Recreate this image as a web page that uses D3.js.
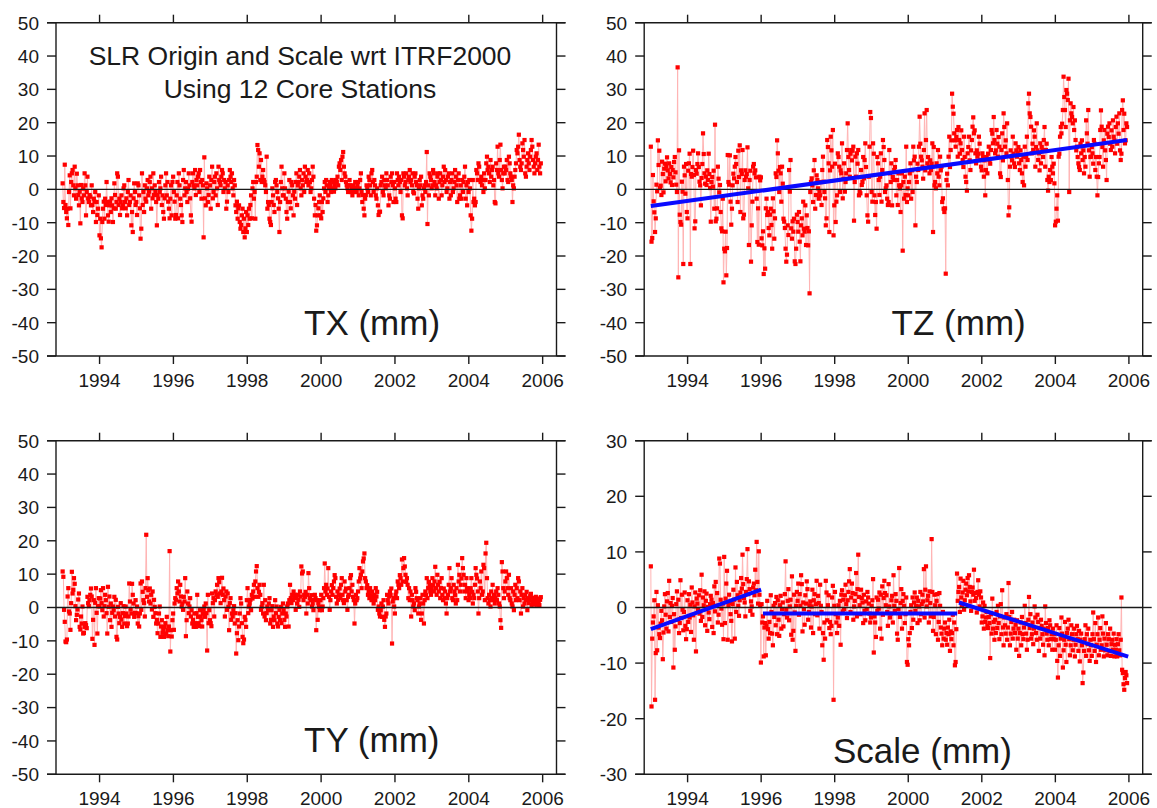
<!DOCTYPE html>
<html><head><meta charset="utf-8">
<script src="https://cdn.jsdelivr.net/npm/d3@7"></script>
<style>
body{margin:0;background:#fff}
svg{display:block}
text{font-family:Arial,"Liberation Sans",sans-serif;fill:#1a1a1a}
</style>
</head><body>
<svg id="chart" width="1157" height="808"></svg>
<script>
// ---------- data (weekly solutions) ----------
const firstEpoch = 1993.0;
const lastEpoch = 2005.95;

const txValues = [
1.8,-3.8,-5.6,7.4,-4.7,-6.8,-8.7,-5.8,-10.7,-0.8,4.2,-5.7,2.2,4.8,5.8,1.2,-1.8,6.8,0.3,-2.8,4.7,1.2,-1.7,-4.8,-0.7,-10.2,1.3,-2.7,-3.8,0.2,-1.8,4.8,1.2,-7.8,-0.8,3.8,-2.7,-3.8,-1.7,-2.2,-4.8,1.2,-4.7,-6.8,-2.8,-3.7,-0.8,-9.8,-3.8,-7.7,-5.8,-1.8,
-13.8,-8.8,-14.7,-17.4,-9.8,-5.8,-3.7,-8.8,-2.8,-4.7,2.2,-3.8,-7.8,-9.7,-4.8,-3.7,-6.8,-2.7,-4.8,-9.8,-5.7,1.8,-1.7,-5.8,-3.8,4.8,3.8,-4.7,-2.8,-7.7,-3.8,-1.8,-5.7,-4.8,0.3,1.2,-3.8,-5.7,-2.7,-7.8,-0.8,2.8,-4.7,-3.8,-1.8,-10.8,-6.8,-12.8,-2.7,1.8,-0.8,-4.7,
-3.8,-7.7,1.8,1.2,-1.8,-5.7,-14.8,-11.8,4.8,-4.7,-0.8,-6.8,1.2,-2.8,-3.7,0.3,2.8,-1.8,-0.7,2.2,3.8,-5.8,0.3,-2.7,4.8,-1.7,1.2,-0.8,-3.8,-10.8,-1.7,-2.8,2.2,-0.8,0.3,3.8,-4.7,-1.8,-6.8,-8.8,-2.7,1.2,4.8,-1.8,2.2,-3.7,-5.8,-8.7,-2.8,1.2,-7.8,2.2,
3.8,-0.8,-3.7,-8.8,-7.7,-1.8,2.2,-8.7,4.8,1.2,-2.8,-4.7,-7.8,-9.8,2.8,5.8,-1.8,0.3,2.2,-0.8,-3.8,0.2,4.8,1.2,-2.7,-7.8,-9.7,2.2,4.8,1.2,0.3,5.8,-1.7,2.8,1.2,3.8,4.8,-0.8,5.8,2.2,-2.8,2.8,1.2,-14.4,9.6,-2.7,-4.8,1.8,0.3,-3.8,-1.7,3.8,
1.2,-5.8,2.8,6.8,-2.7,-0.8,2.2,3.8,-1.8,4.8,0.3,-4.7,6.8,2.8,2.2,1.2,3.8,5.8,4.8,-0.8,2.8,0.3,2.2,-5.8,-3.7,1.2,-0.8,2.8,5.8,3.8,2.2,4.8,0.3,-1.8,2.8,1.2,-4.8,-6.8,-3.7,-8.8,-5.7,-4.8,-9.8,-11.8,-10.7,-7.8,-5.8,-12.8,-8.8,-14.4,-11.7,-6.8,
-12.8,-7.8,-10.7,-5.8,-8.8,-4.7,-1.8,-8.7,0.3,2.2,-2.8,-0.8,-8.8,2.2,3.8,13.3,11.8,6.8,10.8,2.8,8.8,2.2,3.8,5.8,2.8,2.2,1.2,-0.8,9.8,-5.8,-3.8,-4.7,-8.8,-9.8,-10.7,-3.8,0.3,-1.8,-4.7,-6.8,2.2,2.8,1.2,-0.8,-2.7,-5.8,-12.8,-3.8,2.2,6.8,0.3,-1.8,
-1.8,4.8,0.3,-2.8,-6.8,-8.8,-3.8,-0.7,2.8,-3.8,-5.7,2.2,1.2,-1.8,-7.8,-0.7,-2.8,2.2,4.8,-4.7,1.2,2.2,3.8,5.8,0.3,-1.8,2.8,1.2,4.8,-0.8,6.8,3.8,2.2,2.8,5.8,1.2,4.8,2.2,-0.8,0.3,2.8,6.8,3.8,-2.8,-7.8,-4.7,-12.4,-10.8,-7.8,-5.7,-3.8,-1.8,
-7.8,-8.7,-3.8,-6.8,-2.7,0.3,2.2,-0.8,2.8,1.2,-3.8,-1.8,0.3,2.2,1.2,-0.8,2.8,0.3,2.2,-0.7,1.2,0.3,2.8,2.2,3.8,1.2,6.8,7.8,5.8,8.8,2.8,9.8,11.2,6.8,4.8,3.8,2.2,1.2,0.3,-0.8,1.2,2.8,1.2,-0.8,0.3,-1.8,1.2,0.3,-0.8,2.2,0.3,-0.8,
1.2,2.2,-1.8,0.3,2.8,4.8,-0.8,-3.8,-1.7,-5.8,-7.8,-2.8,-1.7,1.2,0.3,-0.8,3.8,2.8,1.2,-1.8,4.8,5.8,2.2,-0.8,2.8,1.2,-1.8,-2.8,0.3,-4.8,-7.7,-6.8,-6.7,1.2,2.2,3.8,-0.8,-1.8,2.8,1.2,0.3,4.8,2.8,1.2,-4.8,-1.8,-2.8,3.8,2.2,4.8,1.2,-3.8,
2.2,0.3,-2.8,-3.8,4.8,2.8,1.2,3.8,2.2,-0.8,2.8,-7.8,-8.7,4.8,3.8,1.2,2.2,4.8,0.3,-1.8,2.8,3.8,5.8,2.2,2.8,1.2,4.8,-0.8,-1.2,3.8,4.8,2.2,1.2,-2.8,-5.8,0.3,2.8,1.2,3.8,-4.8,-1.8,-2.8,0.3,1.2,-0.8,2.2,11.2,-10.4,1.2,-1.8,4.8,3.8,
2.8,0.3,1.2,5.8,4.8,2.2,-1.8,1.2,0.3,3.8,4.8,-2.8,2.2,4.8,2.8,-1.8,1.2,3.8,6.8,2.2,5.8,2.8,-0.8,0.3,3.8,4.8,-2.8,2.2,-1.8,2.8,4.8,-0.8,0.3,2.2,5.8,3.8,1.2,-3.8,2.8,4.8,-2.8,-1.8,1.2,-2.8,2.8,-0.8,2.2,3.8,6.8,-2.8,1.2,-4.8,
2.2,-0.8,2.8,0.3,-7.8,-12.4,-8.8,2.8,-3.8,-2.8,-4.8,-3.8,5.8,4.8,2.8,7.8,6.8,2.8,2.2,3.8,1.2,2.8,-0.8,4.8,0.3,2.8,7.8,9.8,5.8,6.8,4.8,2.2,8.8,3.8,5.8,6.8,1.2,2.8,-3.8,-4.2,7.8,5.8,12.8,4.8,3.8,8.8,13.4,5.8,2.8,0.3,4.8,6.8,
4.8,6.8,5.8,8.8,2.8,2.2,9.8,7.8,4.8,3.8,2.8,-3.8,1.2,0.3,3.8,5.8,7.8,11.8,10.8,12.8,16.4,8.8,6.8,5.8,7.8,13.8,11.8,9.8,14.8,4.8,3.8,6.8,8.8,10.8,7.8,5.8,9.8,11.8,14.8,12.8,8.8,6.8,4.8,7.8,9.8,10.8,5.8,8.8,13.4,6.8,4.8,7.8
];

const tzValues = [
12.8,-15.7,-14.6,4.3,-3.6,-6.9,-12.8,-8.7,1.4,-0.6,14.7,7.3,11.6,0.4,1.1,-1.7,8.3,4.6,-0.9,6.2,7.7,2.4,6.8,9.6,5.7,3.3,7.8,4.6,2.1,6.7,1.3,5.8,3.6,8.2,9.7,5.1,1.4,-0.8,36.6,-26.4,11.7,-7.6,-9.8,-10.6,2.3,-0.7,-22.4,6.8,4.2,-1.3,7.6,-6.8,
-8.7,5.6,7.8,10.7,-22.4,4.6,3.8,6.7,11.6,4.3,-11.7,-9.6,5.8,4.7,7.6,10.8,6.7,2.3,1.2,-4.8,3.4,7.6,16.8,10.6,4.8,1.7,3.8,1.3,5.7,2.8,10.7,4.6,0.4,-9.7,2.2,3.7,0.8,5.6,-5.8,19.4,-9.6,-8.8,-5.7,6.8,3.2,-0.9,1.3,-6.8,-11.7,-12.6,-2.8,-27.9,
-17.8,-18.6,-12.7,-25.8,-17.6,10.3,2.2,1.4,10.2,-3.7,-10.6,-5.8,1.2,4.7,3.3,6.8,9.7,7.6,2.2,-3.8,11.6,3.7,13.2,-6.8,5.7,4.6,11.8,-8.7,-7.6,2.8,5.7,3.8,4.6,12.6,0.3,-16.7,2.8,5.6,-21.7,-10.8,-3.7,6.8,7.6,4.8,5.7,3.6,-2.8,-15.8,-5.7,-16.6,3.8,2.7,
3.6,-14.7,-16.8,-12.6,-25.4,-17.7,-23.8,-5.7,-2.8,-7.7,-6.8,-11.6,-13.8,-7.6,-5.8,-10.7,-17.8,-2.7,-6.6,-14.8,-8.7,4.8,3.7,14.7,10.8,5.6,-0.8,6.7,4.8,-3.7,6.8,1.7,-8.8,-9.7,-11.6,-17.8,-21.7,-19.6,-10.8,-13.7,5.8,-0.7,8.8,-11.7,-14.8,-9.6,-12.7,-8.8,-21.6,-22.4,-17.8,-7.6,
-9.8,-12.7,-6.8,-15.7,-21.6,-10.8,-8.7,-13.8,-3.7,-11.8,-12.7,-4.8,-16.7,-7.8,-11.6,-16.8,-12.6,-31.2,-0.8,2.2,3.3,1.2,-3.8,5.7,8.8,-5.8,-1.7,4.2,2.8,0.3,-2.8,-0.7,-1.8,2.2,-4.7,5.8,9.8,2.3,-0.8,-2.7,-10.8,-8.7,14.8,12.7,7.8,-12.8,5.7,15.8,11.7,6.8,17.8,-13.8,
-4.8,7.7,-9.8,-3.7,-1.8,10.8,9.7,6.8,-0.8,5.7,4.8,13.8,-2.7,3.2,7.8,-0.7,2.2,4.8,11.8,19.8,9.7,5.8,3.8,10.7,11.8,8.7,11.6,12.8,-9.4,2.2,9.8,3.8,10.8,7.7,11.8,-1.8,-0.7,-1.2,5.8,1.3,2.2,9.7,3.3,8.8,13.8,6.7,-1.8,-7.8,-9.7,3.8,12.8,23.2,
21.4,-0.8,-3.7,13.8,10.7,-1.8,-7.7,-3.8,-11.8,9.7,7.8,2.8,-1.7,3.8,10.8,-3.7,5.8,14.8,12.7,8.8,-0.8,0.3,1.2,-2.8,-4.7,-3.8,11.8,4.8,2.2,7.8,-4.8,3.7,2.8,5.8,6.7,8.8,-1.8,2.8,-4.7,4.8,1.2,0.3,-6.8,1.2,4.8,-18.4,2.2,-2.8,3.8,-1.7,12.8,-3.8,
0.3,-1.8,2.2,4.8,7.8,-2.8,5.7,-0.8,12.8,8.7,9.8,-10.8,3.8,2.2,7.7,5.8,12.8,21.8,13.7,9.8,8.7,6.8,3.2,11.8,22.8,5.7,14.8,23.8,7.8,9.7,6.8,4.8,8.7,5.8,7.7,13.8,-12.8,12.7,1.2,2.2,0.3,7.8,4.8,11.8,3.8,1.2,9.8,5.7,6.8,-3.8,-2.7,-5.8,
-6.8,-5.7,-25.3,2.8,4.7,1.2,9.8,15.8,6.7,11.8,14.7,28.7,24.8,22.7,16.8,14.7,12.8,15.7,17.8,9.8,18.7,14.8,10.7,13.8,17.7,11.8,8.8,6.7,15.8,9.7,3.8,2.2,-0.4,10.8,12.7,15.8,8.7,5.8,11.7,14.8,18.8,21.6,16.8,17.7,10.8,7.8,11.7,9.8,10.7,15.8,13.7,8.8,
6.8,5.7,10.8,9.7,3.8,8.7,-1.8,5.8,9.7,4.8,10.7,12.8,8.8,7.7,11.8,17.8,16.7,13.8,21.7,14.8,10.8,11.7,17.8,13.7,9.8,15.7,12.8,4.8,3.7,11.8,16.8,8.7,22.8,18.7,12.8,14.7,10.8,19.8,2.8,-7.8,-5.4,6.8,11.7,9.8,8.7,15.8,10.7,7.8,6.7,13.8,11.7,9.8,
10.8,12.7,7.8,5.8,11.7,8.8,4.8,2.2,9.8,1.2,12.8,6.8,9.7,15.8,8.8,25.8,28.7,22.8,21.7,18.8,10.8,13.7,11.8,17.7,15.8,6.8,12.7,19.8,11.7,8.8,10.8,5.7,13.8,7.8,12.7,11.8,9.7,14.8,18.7,6.8,11.8,13.7,2.8,-0.4,3.8,2.2,5.8,2.8,9.7,6.8,4.8,7.7,
1.8,-10.8,-9.7,-5.8,-1.8,-9.4,9.8,10.7,15.8,18.7,16.8,19.7,23.8,33.8,27.7,23.8,18.7,29.8,28.7,26.8,33.2,-0.8,20.7,25.8,22.8,21.7,19.8,24.7,17.8,20.7,14.8,11.7,12.8,9.7,7.8,6.7,5.8,13.7,10.8,14.7,8.8,11.7,4.8,9.7,6.8,20.7,16.8,13.7,23.8,11.7,3.8,9.7,
9.8,12.7,10.8,7.7,14.8,13.7,5.8,9.7,3.8,-1.8,3.7,7.8,9.7,17.8,23.7,18.8,12.7,6.8,14.7,17.8,11.7,8.8,2.8,16.7,18.8,15.7,19.8,13.7,11.8,17.7,12.8,20.7,15.8,14.7,10.8,18.7,21.8,13.7,19.8,16.7,22.8,11.7,8.8,10.7,23.8,26.7,17.8,22.7,13.8,14.7,19.8,18.7
];

const tyValues = [
10.8,9.2,-0.7,-4.3,-10.2,-10.4,-9.6,3.3,5.8,-1.2,-1.8,-6.7,1.3,10.7,4.2,5.3,8.8,7.1,0.4,-3.8,-2.2,-0.6,2.4,4.2,-5.8,-6.6,-2.7,-4.8,0.3,-7.8,-7.6,-5.8,-4.7,-5.3,-6.2,3.2,1.3,0.4,2.2,3.8,5.7,3.3,-9.4,-3.7,2.2,-11.2,1.4,5.8,-1.6,-7.8,0.4,2.8,
0.3,2.7,5.2,1.3,-0.8,5.8,-2.7,0.4,3.8,2.2,-1.7,-7.8,6.2,0.2,3.3,-3.8,1.2,-5.8,-1.6,0.3,-0.8,3.2,-2.7,2.3,-8.8,-9.6,0.2,-1.8,-4.7,-2.8,1.3,-3.6,-5.8,-1.7,0.4,-4.8,-2.6,0.3,-1.8,-5.6,-4.8,-2.7,7.2,1.8,-0.6,-1.8,7.1,3.8,1.2,-2.8,-1.6,2.2,
-1.7,0.3,-4.8,-2.6,-5.7,-1.8,7.2,-0.7,7.8,4.7,2.2,1.3,-2.7,5.8,21.8,3.2,8.8,5.2,1.8,5.7,1.2,3.8,-0.6,4.8,-2.8,2.3,0.2,-1.7,-4.8,-3.7,-7.7,-4.8,-1.8,0.3,-8.8,-5.7,-3.8,-7.6,-6.7,-8.8,-5.8,-4.7,-7.8,-2.8,-6.8,-8.6,-5.7,16.9,-13.2,-6.8,-8.7,-3.8,
-1.8,-6.7,1.2,2.8,2.3,5.8,4.2,7.8,4.8,1.8,6.8,3.3,0.3,1.2,-0.7,3.2,1.8,8.8,-8.6,-3.8,4.8,1.2,-1.7,0.3,2.8,-2.7,-0.8,-4.8,-3.7,-5.8,-1.8,-4.7,-5.8,-1.7,3.8,-2.8,-4.7,-5.6,-0.8,-2.7,-3.8,-5.7,-1.8,-0.7,0.3,-2.8,1.2,-1.7,-12.9,3.8,-4.7,-0.8,
-3.8,-4.7,-5.6,4.2,1.3,2.8,-2.7,2.2,4.8,3.8,6.8,3.2,8.8,7.6,4.2,1.3,4.8,8.9,3.8,5.7,2.2,-2.7,3.3,4.8,-0.7,4.2,0.2,-6.8,1.3,2.8,-3.7,-1.8,-2.7,-0.8,0.4,-4.8,-1.7,-13.8,-7.7,-3.8,-9.8,-5.7,-1.8,2.8,1.2,-4.7,-8.8,-10.7,-9.6,-2.8,-3.7,-5.8,
2.2,5.8,-1.7,0.3,1.2,2.3,-0.8,3.8,2.7,4.8,6.8,3.2,7.8,10.8,12.4,5.8,3.2,4.7,6.8,3.8,-0.7,0.2,1.3,-1.8,6.8,-2.7,2.2,-3.8,-1.7,0.3,-0.8,1.2,2.8,-4.8,-3.7,-0.8,0.4,-5.8,-2.7,-3.8,2.2,-1.7,0.3,-4.8,-5.7,-2.8,-0.7,-3.8,0.2,-4.7,-1.8,1.2,
-0.8,-3.7,-5.8,-1.8,-2.7,0.3,1.2,-5.7,2.2,6.8,2.8,1.3,3.8,2.2,4.8,3.2,3.8,-0.7,2.8,1.2,3.8,2.3,0.2,4.8,3.3,12.3,10.2,10.8,2.2,3.8,3.2,4.7,-1.8,3.8,1.2,10.3,5.8,2.8,2.2,3.7,0.3,1.2,-0.8,2.3,3.8,2.8,-6.8,2.2,-3.7,1.3,0.2,-0.8,
2.2,3.8,-0.8,0.3,2.8,5.8,13.2,4.8,6.8,3.8,5.7,11.8,3.2,-0.7,2.2,4.8,6.7,3.8,5.8,7.8,9.7,8.8,3.2,1.2,4.8,2.3,3.8,5.7,2.8,6.8,8.8,3.8,2.2,1.3,7.8,4.8,5.7,2.2,-0.7,3.2,3.8,5.8,8.8,9.7,4.8,6.8,3.2,2.2,-4.8,1.2,3.8,2.2,
2.8,4.8,7.8,11.8,8.7,9.8,5.8,10.8,13.8,14.7,16.2,8.8,7.8,5.8,6.7,3.8,4.8,2.8,5.8,3.7,2.2,4.8,3.2,1.2,3.8,2.2,5.8,3.3,4.7,-0.7,0.3,-1.8,-2.7,-0.8,1.2,-2.8,0.3,2.2,-3.7,-5.8,-2.7,-1.8,3.8,2.2,1.2,3.3,4.8,3.8,5.7,-10.8,1.8,2.8,
0.3,-1.8,3.8,4.8,2.8,7.8,6.8,5.8,9.7,8.8,6.8,14.4,7.8,11.8,14.8,12.3,9.8,7.7,8.8,6.8,2.8,5.8,2.2,4.8,-2.7,3.8,2.2,0.3,1.2,-0.8,5.8,4.7,2.8,2.2,-1.8,0.3,1.2,2.8,-3.7,-1.8,3.8,1.2,-4.8,2.2,4.8,3.7,8.8,2.8,5.8,7.7,6.8,4.8,
3.8,5.8,8.8,6.7,4.8,7.8,12.2,5.8,3.8,9.8,6.8,4.8,7.7,2.8,5.8,8.8,3.8,2.2,5.7,2.8,4.8,1.2,-1.8,2.8,3.8,6.8,11.8,4.8,5.8,8.8,2.8,2.2,6.8,4.8,3.7,1.2,5.8,2.2,12.8,7.8,9.8,4.8,6.8,8.7,14.8,11.8,9.8,4.8,6.8,2.8,8.8,5.8,
4.8,2.2,3.8,2.8,5.8,8.8,4.7,1.2,3.8,2.8,6.8,11.8,9.8,8.7,4.8,-1.8,2.8,7.8,5.8,10.8,3.8,4.8,12.8,11.8,2.2,16.2,19.4,8.8,2.8,1.2,3.8,2.2,0.3,4.8,2.8,6.8,2.2,3.8,1.2,2.8,4.8,2.2,5.8,3.8,1.2,0.3,-3.8,-6.1,13.6,10.8,5.8,2.8,
4.8,7.8,10.8,8.8,5.8,3.8,9.8,2.8,2.2,5.8,1.2,0.3,4.8,-0.8,3.8,6.8,2.2,5.8,2.8,8.8,7.8,2.2,4.8,-1.8,3.8,5.8,0.3,2.8,1.2,3.8,2.2,4.7,-0.8,2.8,1.3,2.2,3.4,4.1,0.8,2.9,1.7,0.9,2.6,1.6,3.2,0.8,1.9,2.7,1.4,0.7,2.3,3.1
];

const scaleValues = [
7.4,-17.8,-5.6,-2.7,-1.6,1.3,-16.6,-8.2,2.8,-7.7,0.4,-3.6,-4.8,-5.5,-2.9,-0.6,-2.3,-9.3,-4.5,0.2,2.4,-1.3,-3.8,1.1,2.6,-4.3,4.8,-1.7,0.8,-2.6,0.3,1.7,-10.8,-1.2,-7.6,-3.4,0.6,2.9,-2.2,1.4,-4.6,-2.8,4.9,-1.9,2.3,-0.4,-4.1,-0.8,2.7,-3.3,-5.7,-3.9,
1.3,-2.6,2.4,-1.8,0.5,-4.4,3.6,0.9,-1.4,-5.8,0.2,2.7,-7.9,1.6,0.7,-0.3,2.2,-1.1,3.1,-2.4,5.9,-1.7,1.8,0.4,2.9,-3.2,1.2,2.5,-4.2,0.1,-0.9,-2.1,0.6,2.1,1.4,-3.5,0.8,-4.6,3.8,-0.7,4.6,0.3,2.6,-2.7,-1.3,8.8,7.9,1.4,-0.2,-3.1,0.7,-5.7,
9.1,-2.8,1.6,4.3,6.6,-5.8,0.4,2.3,0.8,-1.2,-2.4,-6.1,0.6,3.2,1.4,-5.6,7.2,-0.8,4.6,2.2,0.3,-1.5,1.3,2.7,5.3,3.4,9.5,4.2,1.7,0.9,-1.6,2.8,5.1,10.5,2.4,4.7,3.3,-0.6,1.1,0.2,-1.3,3.6,4.3,2.2,6.8,3.1,11.8,4.6,0.7,10.1,2.3,0.4,
-9.9,0.6,-2.7,-1.6,-8.8,-3.6,-2.8,-8.6,-3.3,1.2,-3.9,-5.6,-2.6,-4.6,2.2,-0.8,-4.7,-6.8,0.3,-1.7,0.8,-3.2,1.9,-4.8,1.3,-2.2,-5.1,0.4,2.1,-3.8,-0.3,0.9,-3.4,-1.2,2.4,8.3,-0.4,-1.8,1.2,3.3,-2.3,0.2,1.4,-4.9,5.6,-5.8,-4.2,2.3,-0.9,-7.8,0.3,2.8,
1.2,4.3,-1.3,2.4,0.3,5.8,4.2,-4.3,0.9,-0.3,-3.1,2.2,0.7,4.7,3.3,-2.2,-0.8,0.4,1.1,-3.6,0.2,3.2,-4.6,1.3,2.4,-1.2,0.6,4.8,-1.4,2.1,0.8,-3.8,4.1,0.3,-0.8,-6.8,-4.6,-9.4,-2.7,-5.6,4.8,2.7,-2.3,0.4,2.2,-3.7,-2.6,-4.8,-3.3,1.8,3.9,-16.6,
0.3,2.8,-1.2,-2.7,-4.6,-1.8,0.4,-3.3,1.2,-6.7,2.3,3.1,-0.7,1.4,-0.3,2.2,4.1,0.6,-1.9,1.3,2.8,4.7,6.9,-0.8,1.8,4.3,2.6,-2.2,0.2,1.2,2.4,6.2,-1.6,3.3,9.5,1.9,0.4,-1.2,3.2,1.7,0.9,-2.8,2.3,-0.6,-2.3,1.1,-0.3,2.8,1.8,0.7,-1.1,-2.7,
-1.8,0.3,1.3,5.1,-8.1,-1.6,-2.7,-5.3,1.8,-0.6,1.4,-0.2,2.7,-3.8,2.3,-5.6,3.8,-1.3,1.7,4.8,2.6,0.4,2.2,-0.8,-3.3,4.2,0.2,-1.8,-1.1,1.3,2.1,-2.7,5.8,0.3,-0.6,2.4,1.2,-4.7,-5.8,-0.3,7.1,-1.7,0.8,3.3,-3.8,1.2,2.4,0.3,-2.8,-1.2,1.8,-9.8,
-10.3,-5.7,-6.8,-4.6,-0.8,0.4,-3.7,1.8,-2.2,0.9,2.7,-0.6,0.3,1.8,-2.8,1.2,0.2,-2.3,2.8,-1.2,0.6,2.3,1.1,6.9,-1.8,3.2,7.4,0.2,1.3,2.1,-2.7,2.9,0.8,-1.6,12.3,2.8,-4.2,-1.7,2.3,0.4,-4.8,1.2,2.4,-5.8,-2.6,2.6,0.3,-3.6,-4.7,-6.8,-0.8,-5.6,
-3.8,-2.7,-5.8,-4.6,-6.7,-3.6,-4.8,-2.2,-7.8,-4.3,-5.7,-4.6,-1.3,-6.8,-2.7,-10.4,-9.8,-3.9,6.1,1.2,2.8,3.7,-0.8,5.2,1.8,0.3,2.7,4.8,-0.4,1.3,3.2,4.3,2.2,5.3,2.9,5.8,3.7,1.1,-0.6,2.8,3.6,2.3,6.8,1.2,2.6,1.7,-0.9,2.8,4.9,2.3,0.2,2.9,
1.8,-2.7,-1.6,0.9,-3.8,0.3,-2.6,-1.8,-0.8,-3.3,-3.7,-1.7,-2.8,-9.1,-1.2,-4.7,1.6,-3.8,-2.6,-5.8,-2.2,-4.6,-0.8,-3.7,0.3,-2.8,-5.7,-1.6,0.6,-4.8,3.1,-3.6,-6.8,-1.8,-3.2,-4.7,-1.2,-5.8,-3.6,4.4,-1.7,-6.8,-4.7,-2.6,-0.8,-5.6,-3.8,-2.2,-4.6,-3.1,-7.6,-2.3,
-5.6,-3.8,-8.7,-4.6,-2.7,-6.8,-1.7,-4.8,-5.7,-3.6,0.3,-2.8,-4.7,-7.6,-5.8,-2.2,1.9,-3.7,-1.2,-5.6,-4.8,-2.7,-6.6,-3.8,0.2,-1.8,-4.6,-5.8,-1.3,-2.6,-7.8,-3.7,-5.6,-2.2,-3.3,-4.8,-6.7,-3.8,-8.6,0.2,-2.8,-4.7,-5.8,-3.7,-6.8,-2.3,-3.2,-5.7,-4.8,-7.6,-3.8,-5.7,
-4.8,-7.6,-5.8,-3.2,-9.6,-12.6,-6.8,-3.7,-8.7,-5.6,-1.8,-4.7,-10.8,-7.7,-5.8,-2.6,-6.7,-9.8,-4.6,-3.8,-2.2,-5.7,-8.6,-6.8,-3.2,-4.8,-7.7,-5.8,-3.8,-8.8,-6.7,-4.8,-3.3,-5.7,-7.8,-4.2,-9.7,-5.8,-4.7,-6.8,-13.6,-11.7,-7.8,-5.7,-3.2,-8.7,-4.8,-6.6,-3.8,-7.7,-9.6,-5.8,
-6.8,-8.7,-4.8,-0.9,-5.7,-7.8,-2.8,-9.8,-6.7,-4.8,-1.8,-8.6,-5.8,-3.7,-7.6,-6.8,-1.6,-4.7,-8.8,-5.6,-7.7,-2.8,-6.7,-8.6,-4.8,-5.7,-7.8,-3.8,-8.7,-6.6,-5.8,-7.6,-4.7,-8.8,-6.7,-7.6,-5.7,-8.8,-6.6,-4.8,-7.7,-8.6,-5.8,1.8,-11.2,-11.8,-13.8,-14.8,-12.7,-11.6,-12.2,-13.6
];

// linear fits drawn in blue: [startYear, startValue, endYear, endValue]
const tzTrendSegments = [[1993.0, -5.0, 2005.95, 14.8]];
const scaleTrendSegments = [
  [1993.0, -3.9, 1996.0, 3.2],
  [1996.05, -1.1, 2001.33, -1.1],
  [2001.38, 0.9, 2005.98, -8.85]
];

const xTickYears = [1994, 1996, 1998, 2000, 2002, 2004, 2006];
const translationTicks = [-50, -40, -30, -20, -10, 0, 10, 20, 30, 40, 50];
const scaleTicks = [-30, -20, -10, 0, 10, 20, 30];
const panelLabels = ["TX (mm)", "TZ (mm)", "TY (mm)", "Scale (mm)"];
const titleLines = ["SLR Origin and Scale wrt ITRF2000", "Using 12 Core Stations"];

// ---------- drawing ----------
const svg = d3.select("#chart");
const X_DOMAIN = [1992.82, 2006.375];

const panels = [
  {values: txValues, ticks: translationTicks, label: panelLabels[0], trend: [],
   L: 56, R: 556.5, T: 22.7, B: 356, labelX: 304, labelY: 335},
  {values: tzValues, ticks: translationTicks, label: panelLabels[1], trend: tzTrendSegments,
   L: 644.2, R: 1142.7, T: 22.7, B: 356, labelX: 891.6, labelY: 335},
  {values: tyValues, ticks: translationTicks, label: panelLabels[2], trend: [],
   L: 56, R: 556.5, T: 440.7, B: 774.3, labelX: 304, labelY: 751.7},
  {values: scaleValues, ticks: scaleTicks, label: panelLabels[3], trend: scaleTrendSegments,
   L: 644.2, R: 1142.7, T: 440.7, B: 774.3, labelX: 833, labelY: 763}
];

const AX = "#1a1a1a";
const TICK_H = 9, TICK_V = 8;

panels.forEach(p => {
  const x = d3.scaleLinear().domain(X_DOMAIN).range([p.L, p.R]);
  const y = d3.scaleLinear().domain([p.ticks[0], p.ticks[p.ticks.length - 1]]).range([p.B, p.T]);
  const g = svg.append("g");

  const n = p.values.length;
  const pts = p.values.map((v, i) => [firstEpoch + (lastEpoch - firstEpoch) * i / (n - 1), v]);

  g.append("path")
    .datum(pts)
    .attr("fill", "none")
    .attr("stroke", "#ffb4b4")
    .attr("stroke-width", 1)
    .attr("d", d3.line().x(d => x(d[0])).y(d => y(d[1])));

  const s = 4.2;
  g.selectAll("rect.pt").data(pts).join("rect")
    .attr("class", "pt")
    .attr("x", d => x(d[0]) - s / 2)
    .attr("y", d => y(d[1]) - s / 2)
    .attr("width", s).attr("height", s)
    .attr("fill", "#ff0000");

  g.append("line")
    .attr("x1", p.L).attr("x2", p.R)
    .attr("y1", y(0)).attr("y2", y(0))
    .attr("stroke", AX).attr("stroke-width", 1.4);

  p.trend.forEach(seg => {
    g.append("line")
      .attr("x1", x(seg[0])).attr("y1", y(seg[1]))
      .attr("x2", x(seg[2])).attr("y2", y(seg[3]))
      .attr("stroke", "#0a0aff").attr("stroke-width", 4);
  });

  const fr = svg.append("g").attr("stroke", AX).attr("stroke-width", 1.4).attr("fill", "none");
  fr.append("line").attr("x1", p.L).attr("x2", p.L).attr("y1", p.T).attr("y2", p.B);
  fr.append("line").attr("x1", p.R).attr("x2", p.R).attr("y1", p.T).attr("y2", p.B);
  fr.append("line").attr("x1", p.L - TICK_H).attr("x2", p.R + TICK_H).attr("y1", p.T).attr("y2", p.T);
  fr.append("line").attr("x1", p.L - TICK_H).attr("x2", p.R + TICK_H).attr("y1", p.B).attr("y2", p.B);

  p.ticks.forEach(t => {
    fr.append("line").attr("x1", p.L - TICK_H).attr("x2", p.L).attr("y1", y(t)).attr("y2", y(t));
    fr.append("line").attr("x1", p.R).attr("x2", p.R + TICK_H).attr("y1", y(t)).attr("y2", y(t));
    svg.append("text")
      .attr("x", p.L - 17).attr("y", y(t)).attr("dy", "0.36em")
      .attr("text-anchor", "end").attr("font-size", 19)
      .text(t);
  });

  xTickYears.forEach(yr => {
    fr.append("line").attr("x1", x(yr)).attr("x2", x(yr)).attr("y1", p.T - TICK_V).attr("y2", p.T);
    fr.append("line").attr("x1", x(yr)).attr("x2", x(yr)).attr("y1", p.B).attr("y2", p.B + TICK_V);
    svg.append("text")
      .attr("x", x(yr)).attr("y", p.B + 31)
      .attr("text-anchor", "middle").attr("font-size", 19)
      .text(yr);
  });

  svg.append("text")
    .attr("x", p.labelX).attr("y", p.labelY)
    .attr("font-size", 35)
    .text(p.label);
});

titleLines.forEach((t, i) => {
  svg.append("text")
    .attr("x", 300).attr("y", 65 + i * 33)
    .attr("text-anchor", "middle").attr("font-size", 26.5)
    .text(t);
});
</script>
</body></html>
